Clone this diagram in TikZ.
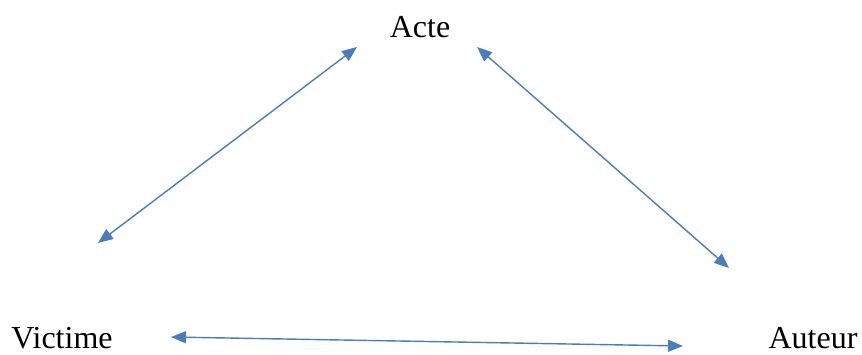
\documentclass[tikz,border=0pt]{standalone}
\usepackage{fontspec}
\setmainfont{Liberation Serif}
\usetikzlibrary{arrows.meta}
\definecolor{arrblue}{RGB}{74,126,187}
\begin{document}
\begin{tikzpicture}[x=1pt,y=-1pt,
  lbl/.style={font=\fontsize{32}{36}\selectfont, inner sep=0pt, anchor=base},
  link/.style={draw=arrblue, line width=1.4pt, {Triangle[length=15pt,width=12pt]}-{Triangle[length=15pt,width=12pt]}}]
\useasboundingbox (0,0) rectangle (862,354);
\node[lbl] (acte) at (420,37) {Acte};
\node[lbl] (victime) at (62,348) {Victime};
\node[lbl] (auteur) at (813,348) {Auteur};
\coordinate (a1) at (98,243);
\coordinate (a2) at (357,47);
\coordinate (b1) at (477,47);
\coordinate (b2) at (729,268);
\coordinate (c1) at (171,337);
\coordinate (c2) at (683,346);
\draw[link] (a1) -- (a2);
\draw[link] (b1) -- (b2);
\draw[link] (c1) -- (c2);
\end{tikzpicture}
\end{document}
